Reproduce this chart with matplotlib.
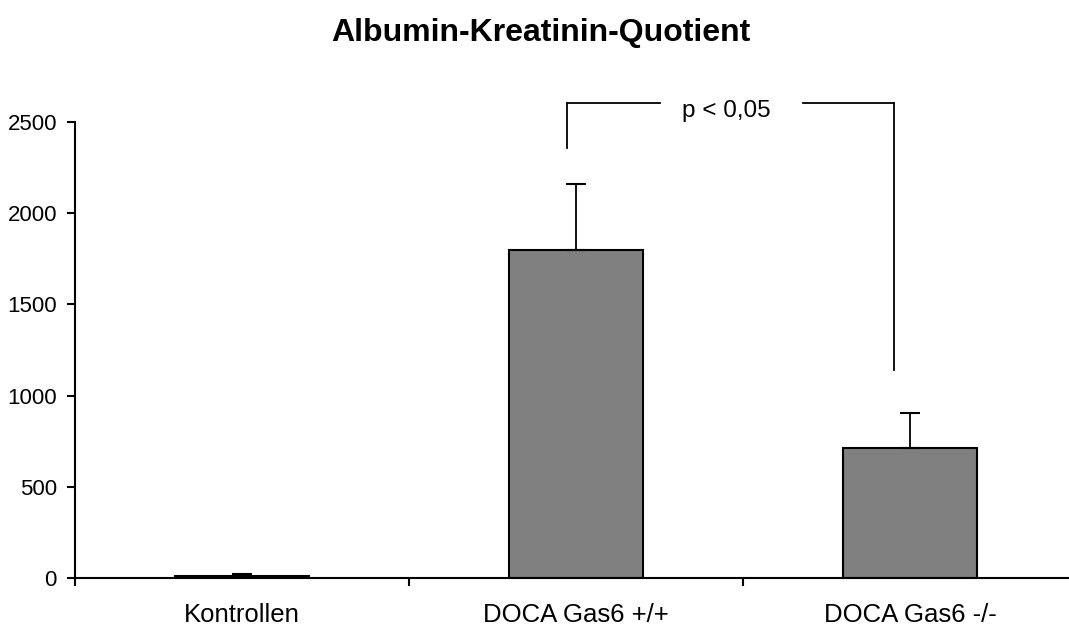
import matplotlib
matplotlib.use("Agg")
import matplotlib.pyplot as plt
import numpy as np

plt.rcParams['font.family'] = ['Liberation Sans', 'DejaVu Sans']

categories = ["Kontrollen", "DOCA Gas6 +/+", "DOCA Gas6 -/-"]
values = [10, 1800, 710]
errors_up = [10, 360, 195]
yticks = [0, 500, 1000, 1500, 2000, 2500]
title = "Albumin-Kreatinin-Quotient"
sig_text = "p < 0,05"

fig = plt.figure(figsize=(10.69, 6.29), dpi=100)
ax = fig.add_axes([75/1069, 1 - 578/629, 1002/1069, (578-122)/629])

x = np.arange(len(categories))
ax.bar(x, values, width=0.4, color="#808080", edgecolor="black", linewidth=1.5, zorder=2)
ax.errorbar(x, values, yerr=[np.zeros(len(values)), errors_up], fmt="none",
            ecolor="black", elinewidth=1.3, capsize=7, capthick=1.5, zorder=3)

ax.set_xlim(-0.5, 2.5)
ax.set_ylim(0, 2500)
ax.set_yticks(yticks)
ax.set_yticklabels([str(v) for v in yticks], fontsize=16)
ax.set_xticks(x)
ax.set_xticklabels(categories, fontsize=18.5)
ax.tick_params(axis="x", which="major", length=0, pad=18)
ax.set_xticks([-0.5, 0.5, 1.5, 2.5], minor=True)
ax.tick_params(axis="x", which="minor", length=6, width=1.5, direction="out")
ax.tick_params(axis="y", length=6, width=1.5, direction="out", pad=7)

for s in ["top", "right"]:
    ax.spines[s].set_visible(False)
for s in ["left", "bottom"]:
    ax.spines[s].set_linewidth(1.5)

# significance bracket
lw = 1.3
ax.plot([0.973, 0.973], [2357, 2604], color="black", lw=lw, clip_on=False)
ax.plot([0.973, 1.25], [2604, 2604], color="black", lw=lw, clip_on=False)
ax.plot([1.68, 1.952], [2604, 2604], color="black", lw=lw, clip_on=False)
ax.plot([1.952, 1.952], [2604, 1140], color="black", lw=lw, clip_on=False)
ax.text(1.45, 2560, sig_text, ha="center", va="center", fontsize=17.5)

fig.text(541/1069, 1 - 33/629, title, ha="center", va="center", fontsize=23, fontweight="bold")

fig.savefig("out.png", dpi=100)
